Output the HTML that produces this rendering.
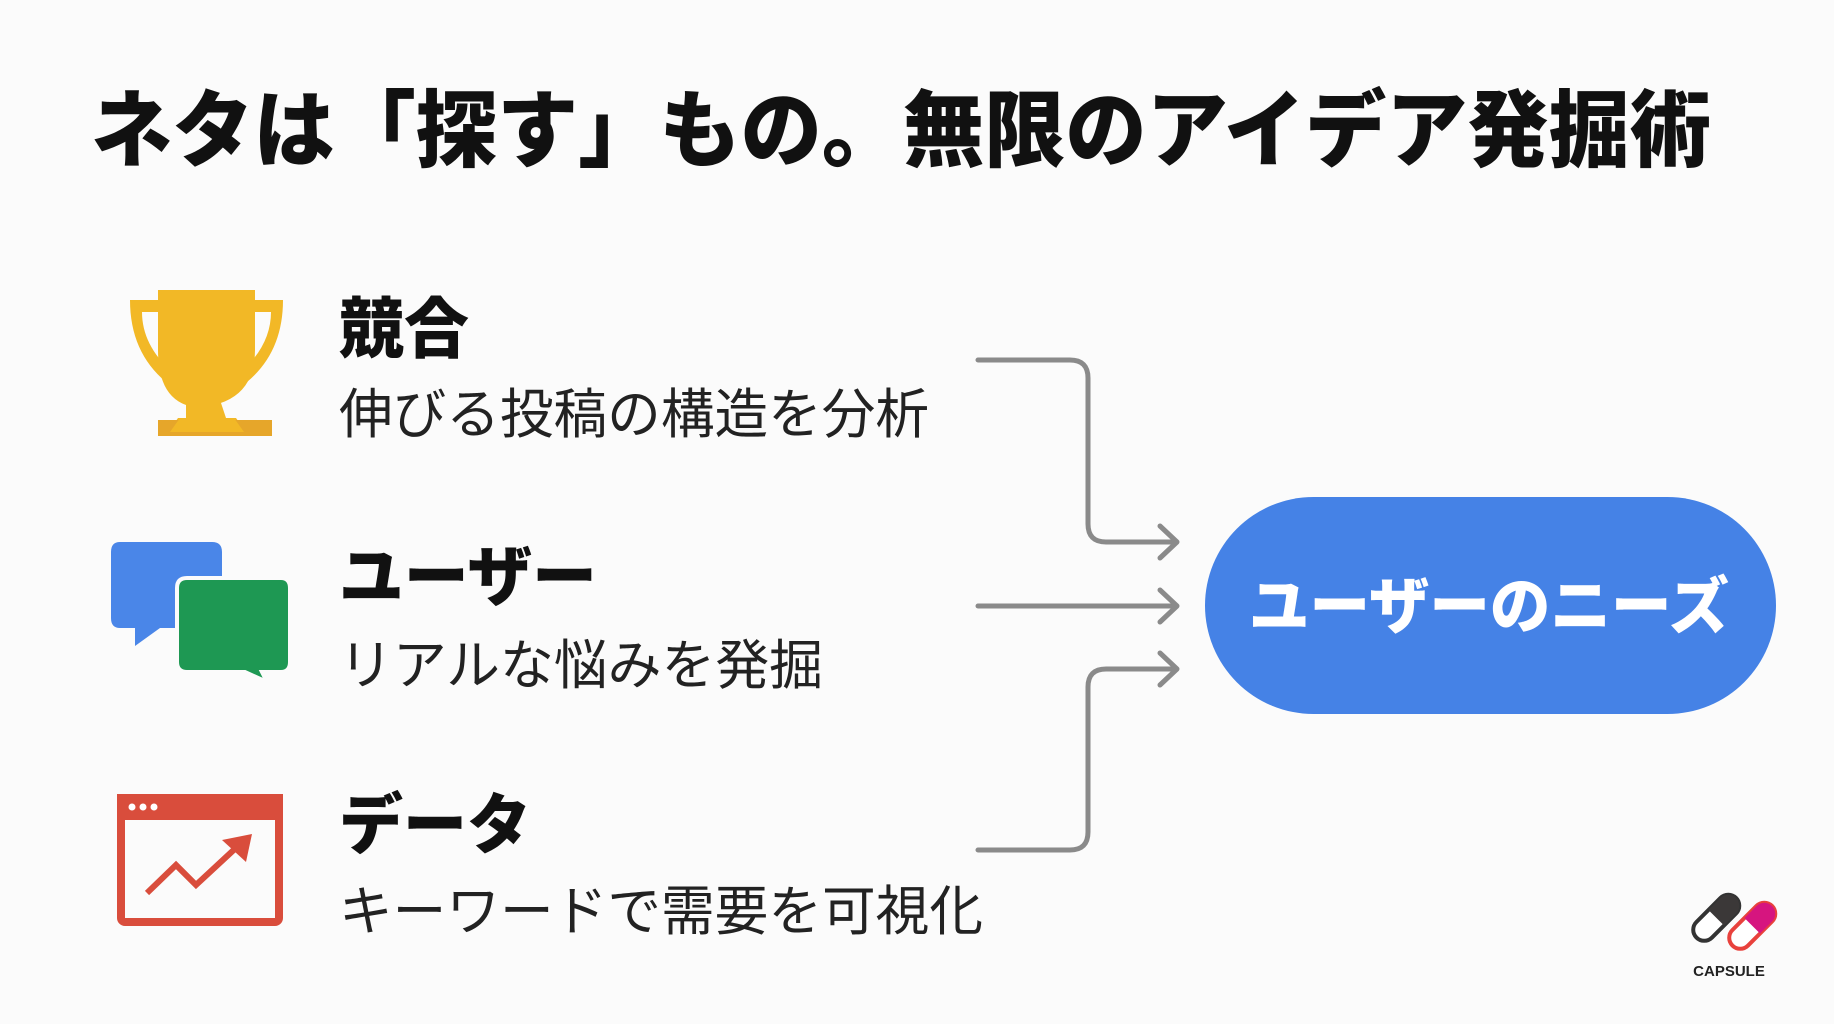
<!DOCTYPE html>
<html><head><meta charset="utf-8"><style>
html,body{margin:0;padding:0;background:#fbfbfb;}
svg{display:block;}
text{font-family:"Liberation Sans","Noto Sans CJK JP",sans-serif;}
</style></head><body>
<svg width="1834" height="1024" viewBox="0 0 1834 1024" xmlns="http://www.w3.org/2000/svg">
<rect width="1834" height="1024" fill="#fbfbfb"/>
<text x="91" y="160" font-size="84" font-weight="900" fill="#111" textLength="1620" lengthAdjust="spacingAndGlyphs">ネタは「探す」もの。無限のアイデア発掘術</text>

<!-- trophy -->
<g fill="#f2b826">
<path d="M158 290 H255 V350 Q255 395 214 405 L214 420 L186 420 L186 405 Q158 395 158 350 Z"/>
<path d="M130 300 H165 V312 H142 Q142 345 172 372 L166 382 Q130 352 130 300 Z"/>
<path d="M283 300 H248 V312 H271 Q271 345 241 372 L247 382 Q283 352 283 300 Z"/>
<path d="M193 400 H220 L226 418 H193 Z"/>
<path d="M178 418 H236 L246 432 H168 Z"/>
</g>
<rect x="158" y="420" width="114" height="16" fill="#e6a62a"/>
<path d="M180 418 H234 L244 432 H170 Z" fill="#f2b826"/>

<!-- speech bubbles -->
<path d="M120 542 H212 Q222 542 222 552 V618 Q222 628 212 628 H160 L135 646 V628 H120 Q111 628 111 618 V552 Q111 542 120 542 Z" fill="#4a86e8"/>
<path d="M187 578 H281 Q290 578 290 588 V662 Q290 672 281 672 H262 L267 682 L245 672 H187 Q177 672 177 662 V588 Q177 578 187 578 Z" fill="#1e9853" stroke="#fbfbfb" stroke-width="4"/>

<!-- data icon -->
<rect x="121" y="798" width="158" height="124" rx="4" fill="none" stroke="#d94d3c" stroke-width="8"/>
<rect x="117" y="794" width="166" height="26" fill="#d94d3c"/>
<circle cx="132" cy="807" r="3.5" fill="#fff"/><circle cx="143" cy="807" r="3.5" fill="#fff"/><circle cx="154" cy="807" r="3.5" fill="#fff"/>
<polyline points="147,893 176,865 196,885 238,846" fill="none" stroke="#d94d3c" stroke-width="6"/>
<path d="M222 840 L252 834 L246 862 Z" fill="#d94d3c"/>

<!-- labels -->
<text x="339" y="352" font-size="66" font-weight="900" fill="#111" textLength="130" lengthAdjust="spacingAndGlyphs">競合</text>
<text x="339" y="433" font-size="54" fill="#222" textLength="590" lengthAdjust="spacingAndGlyphs">伸びる投稿の構造を分析</text>
<text x="339" y="600" font-size="66" font-weight="900" fill="#111" textLength="258" lengthAdjust="spacingAndGlyphs">ユーザー</text>
<text x="339" y="684" font-size="54" fill="#222" textLength="484" lengthAdjust="spacingAndGlyphs">リアルな悩みを発掘</text>
<text x="339" y="848" font-size="66" font-weight="900" fill="#111" textLength="192" lengthAdjust="spacingAndGlyphs">データ</text>
<text x="339" y="930" font-size="54" fill="#222" textLength="644" lengthAdjust="spacingAndGlyphs">キーワードで需要を可視化</text>

<!-- connectors -->
<g fill="none" stroke="#8a8a8a" stroke-width="5" stroke-linecap="round" stroke-linejoin="round">
<path d="M978 360 H1070 Q1088 360 1088 378 V524 Q1088 542 1106 542 H1176"/>
<path d="M978 606 H1176"/>
<path d="M978 850 H1070 Q1088 850 1088 832 V687 Q1088 669 1106 669 H1176"/>
<path d="M1160 526 L1177 542 L1160 558"/>
<path d="M1160 590 L1177 606 L1160 622"/>
<path d="M1160 653 L1177 669 L1160 685"/>
</g>

<!-- pill -->
<rect x="1205" y="497" width="571" height="217" rx="108.5" fill="#4582e6"/>
<text x="1249" y="628" font-size="62" font-weight="900" fill="#fff" textLength="480" lengthAdjust="spacingAndGlyphs">ユーザーのニーズ</text>

<!-- logo -->
<g transform="translate(1712 922) rotate(45)">
<rect x="-11" y="-34" width="22" height="56" rx="11" fill="#fff" stroke="#333" stroke-width="4"/>
<path d="M-11 -6 V-23 A11 11 0 0 1 11 -23 V-6 Z" fill="#3b3838"/>
</g>
<g transform="translate(1748 930) rotate(45)">
<rect x="-11" y="-34" width="22" height="56" rx="11" fill="#fff" stroke="#e8413c" stroke-width="4"/>
<path d="M-11 -6 V-23 A11 11 0 0 1 11 -23 V-6 Z" fill="#d6157f"/>
</g>
<text x="1729" y="976" font-size="15" font-weight="700" fill="#222" text-anchor="middle">CAPSULE</text>
</svg>
</body></html>
